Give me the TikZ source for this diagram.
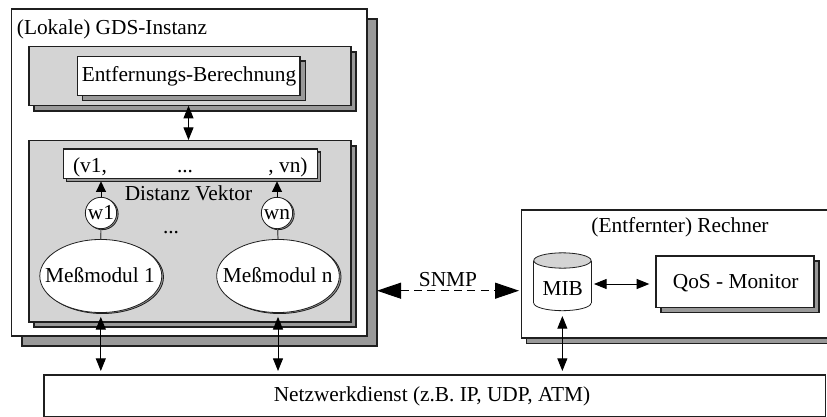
\documentclass[tikz,border=0pt]{standalone}
\usepackage{fontspec}
\setmainfont{Liberation Serif}
\usetikzlibrary{arrows.meta,fit,shapes.geometric,calc}
\definecolor{panelgray}{gray}{0.83}
\definecolor{shadowgray}{gray}{0.6}
\definecolor{linedark}{gray}{0.12}
\tikzset{
  x=0.75pt,y=-0.75pt,
  every node/.style={inner sep=0pt,outer sep=0pt},
  box/.style={draw=linedark,line width=0.8pt,rectangle},
  whitebox/.style={box,fill=white},
  panel/.style={box,fill=panelgray},
  shadowbox/.style={box,fill=shadowgray},
  oval/.style={draw=linedark,line width=0.6pt,ellipse,fill=white},
  ovalshadow/.style={draw=linedark,line width=0.6pt,ellipse,fill=shadowgray},
  lbl/.style={anchor=base,font=\fontsize{16}{18}\selectfont,text=black},
  smallarrow/.style={line width=0.75pt,black,{Triangle[length=9.5pt,width=7.5pt]}-{Triangle[length=9.5pt,width=7.5pt]}},
  uparrow/.style={line width=0.75pt,black,-{Triangle[length=8pt,width=7.5pt]}},
  bigarrow/.style={line width=0.75pt,black,dash pattern=on 6pt off 4pt,{Triangle[length=18pt,width=12pt,sep=0pt]}-{Triangle[length=18pt,width=12pt]}},
  stem/.style={line width=0.9pt,draw=black!65},
}
\newcommand{\rectnode}[6]{\node[#1,fit={(#3,#4)(#5,#6)}] (#2) {};}
\begin{document}
\begin{tikzpicture}
\useasboundingbox (0,0) rectangle (827,417);
\fill[white] (0,0) rectangle (827,417);
% outer instance
\rectnode{shadowbox}{outerS}{22}{19}{377}{346}
\rectnode{whitebox}{outer}{11.7}{9}{367}{336}
\node[lbl] (tLokal) at (112,35) {(Lokale) GDS-Instanz};
% top panel
\rectnode{shadowbox}{topS}{34}{52}{356}{111}
\rectnode{panel}{top}{29}{46.7}{351}{105.7}
\rectnode{shadowbox}{entS}{82.5}{61}{305.5}{100.5}
\rectnode{whitebox}{ent}{77.5}{56.7}{300}{95.7}
\node[lbl] (tEnt) at (189,82) {Entfernungs-Berechnung};
% lower panel
\rectnode{shadowbox}{lowS}{34}{146}{356}{327}
\rectnode{panel}{low}{29}{140.7}{351}{322}
\rectnode{shadowbox}{vecS}{66.3}{152}{320.7}{181.3}
\rectnode{whitebox}{vec}{63.3}{149}{317.7}{178.3}
\node[lbl] (tV1) at (90,172) {(v1,};
\node[lbl] (tVd) at (185,172) {...};
\node[lbl] (tVn) at (288,172) {, vn)};
\node[lbl] (tDist) at (188.5,200.7) {Distanz Vektor};
% weights
\node[ovalshadow,circle,minimum size=23.5pt] (w1S) at (102.5,214) {};
\node[oval,circle,minimum size=23.5pt] (w1) at (101,213) {};
\node[lbl] (tw1) at (101,219) {w1};
\node[ovalshadow,circle,minimum size=23.5pt] (wnS) at (278.5,214) {};
\node[oval,circle,minimum size=23.5pt] (wn) at (277,213) {};
\node[lbl] (twn) at (277,219) {wn};
\node[lbl] (tDots) at (171,233) {...};
% modules
\node[ovalshadow,minimum width=91.5pt,minimum height=54.8pt] (m1S) at (102.5,277) {};
\node[oval,minimum width=91.5pt,minimum height=54.8pt] (m1) at (100.8,276) {};
\node[lbl] (tm1) at (100,282.7) {Meßmodul 1};
\node[ovalshadow,minimum width=92pt,minimum height=54.8pt] (mnS) at (279.7,277) {};
\node[oval,minimum width=92pt,minimum height=54.8pt] (mn) at (278,276) {};
\node[lbl] (tmn) at (277.7,282.7) {Meßmodul n};
\draw[stem] (w1) -- (m1.north);
\draw[stem] (wn) -- (mn.north);
\draw[uparrow] (w1.north) -- (w1.north |- vecS.south);
\draw[uparrow] (wn.north) -- (wn.north |- vecS.south);
% network
\rectnode{whitebox}{net}{44}{375}{825.7}{416.5}
\node[lbl] (tNet) at (432,401.7) {Netzwerkdienst (z.B. IP, UDP, ATM)};
% remote host
\rectnode{shadowbox}{hostS}{526.7}{215}{845}{343.7}
\rectnode{whitebox}{host}{521.7}{210}{840}{338}
\node[lbl] (tHost) at (680,232) {(Entfernter) Rechner};
% MIB cylinder
\node[oval,minimum width=43pt,minimum height=11.5pt] (mibB) at (562.4,303) {};
\fill[white] (533.7,261) rectangle (591,303);
\node[fit={(533.7,253)(591,310.7)}] (mib) {};
\draw[draw=linedark,line width=0.6pt] (533.7,261) -- (533.7,303);
\draw[draw=linedark,line width=0.6pt] (591,261) -- (591,303);
\node[oval,fill=panelgray,minimum width=43pt,minimum height=11.5pt] (mibT) at (562.4,260.5) {};
\node[lbl] (tMib) at (562.7,295) {MIB};
% QoS
\rectnode{shadowbox}{qosS}{661}{261}{819}{312.5}
\rectnode{whitebox}{qos}{656}{256}{814}{307.3}
\node[lbl] (tQos) at (735.7,288) {QoS - Monitor};
% connectors
\draw[smallarrow,shorten >=0.5pt] (top.south -| tDist.south) -- (low.north -| tDist.south);
\draw[smallarrow,shorten <=2.5pt,shorten >=3pt] (m1S.south -| m1.south) -- (net.north -| m1.south);
\draw[smallarrow,shorten <=2.5pt,shorten >=3pt] (mnS.south -| mn.south) -- (net.north -| mn.south);
\draw[smallarrow,shorten <=4pt,shorten >=3pt] (mib.south) -- (net.north -| mib.south);
\draw[smallarrow,shorten <=2.2pt,shorten >=5pt] (mib.east |- 0,284) -- (qos.west |- 0,284);
\node[lbl] (tSnmp) at (448,286.7) {SNMP};
\coordinate (snmpA) at (outerS.east |- 0,290.7);
\coordinate (snmpB) at (host.west |- 0,290.7);
\draw[bigarrow,shorten >=2pt] (snmpA) -- (snmpB);
\end{tikzpicture}
\end{document}
